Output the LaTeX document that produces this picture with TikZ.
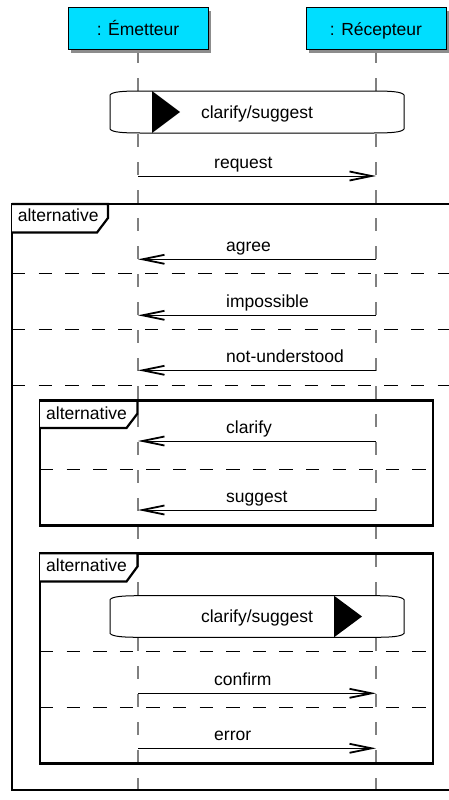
\documentclass[tikz,border=0pt]{standalone}
\usepackage{fontspec}
\setmainfont{Liberation Sans}
\usetikzlibrary{arrows.meta,shadows}
\definecolor{partfill}{RGB}{0,222,255}
\definecolor{lifegray}{RGB}{128,128,128}
\begin{document}
\begin{tikzpicture}[x=1pt,y=-1pt,
  font=\fontsize{17.5}{20}\selectfont,
  participant/.style={draw=black, line width=1pt, fill=partfill, minimum width=140pt, minimum height=42pt, inner sep=0pt, text height=12.5pt, text depth=0pt,
    drop shadow={shadow xshift=3pt, shadow yshift=-3pt, fill=black!45, opacity=1}},
  lifeline/.style={draw=lifegray, line width=1.5pt, dash pattern=on 13pt off 15pt},
  msg/.style={draw=black, line width=1pt, -{Straight Barb[length=22pt,width=9pt,line width=1.8pt]}},
  lbl/.style={anchor=base west, inner sep=0pt},
  framebox/.style={draw=black, line width=2.8pt},
  pent/.style={draw=black, line width=2.2pt, fill=white},
  sepline/.style={draw=black, line width=1pt, dash pattern=on 13.3pt off 13.3pt},
  actbox/.style={draw=black, line width=1pt, fill=white},
  acttext/.style={inner sep=0pt, text height=12.5pt, text depth=0pt},
  tri/.style={fill=black}
]
\useasboundingbox (0,0) rectangle (449,800);

% participant centres and lifeline ends
\path (138,29) coordinate (Ec);
\path (376,29) coordinate (Rc);
\coordinate (Ebot) at (138,800);
\coordinate (Rbot) at (376,800);

% lifelines
\draw[lifeline] (138,50) coordinate (Etop) -- (Ebot);
\draw[lifeline] (376,50) coordinate (Rtop) -- (Rbot);

% outer frame
\draw[framebox, line join=miter] (452,204) -- (12,204) -- (12,790) -- (452,790);
\draw[pent] (12,204) -- (108,204) -- (108,218) -- (97,232.5) -- (12,232.5);
\node[lbl] (alt0) at (17.6,221.7) {alternative};
\draw[sepline] (12,273.3) -- (449,273.3);
\draw[sepline] (12,329.3) -- (449,329.3);
\draw[sepline] (12,385) -- (449,385);

% inner frame 1
\draw[framebox] (40,400.7) rectangle (433,525.7);
\draw[pent] (40,400.7) -- (137.5,400.7) -- (137.5,413.5) -- (126.5,428) -- (40,428);
\node[lbl] (alt1) at (46,419.2) {alternative};
\draw[sepline] (40,469.3) -- (433,469.3);

% inner frame 2
\draw[framebox] (40,553.3) rectangle (433,763.3);
\draw[pent] (40,553.3) -- (137.5,553.3) -- (137.5,566.5) -- (126.5,581.5) -- (40,581.5);
\node[lbl] (alt2) at (46,571.7) {alternative};
\draw[sepline] (40,651) -- (433,651);
\draw[sepline] (40,707.3) -- (433,707.3);

% activity boxes
\draw[actbox] (110,95) .. controls (112,91.5) and (125,91) .. (140,91) -- (374,91)
  .. controls (389,91) and (402,91.5) .. (404,95) -- (404,129)
  .. controls (402,132.5) and (389,133) .. (374,133) -- (140,133)
  .. controls (125,133) and (112,132.5) .. (110,129) -- cycle;
\fill[tri] (152,91) -- (180,112) -- (152,133) -- cycle;
\node[acttext] (cs1) at (257,112) {clarify/suggest};

\draw[actbox] (110,599.7) .. controls (112,596.2) and (125,595.7) .. (140,595.7) -- (374,595.7)
  .. controls (389,595.7) and (402,596.2) .. (404,599.7) -- (404,633.3)
  .. controls (402,636.8) and (389,637.3) .. (374,637.3) -- (140,637.3)
  .. controls (125,637.3) and (112,636.8) .. (110,633.3) -- cycle;
\fill[tri] (334,595.7) -- (362,616.5) -- (334,637.3) -- cycle;
\node[acttext] (cs2) at (257,616.5) {clarify/suggest};

% forward messages
\foreach \n/\y/\t in {req/176/request, con/693.3/confirm, err/748.3/error}{
  \coordinate (e\n) at (138,\y);
  \coordinate (r\n) at (376,\y);
  \draw[msg] (e\n) -- (r\n);
  \node[lbl] (l\n) at (214,\y-7.5) {\t};
}
% backward messages
\foreach \n/\y/\t in {agr/259.3/agree, imp/315.3/impossible, nu/370.3/not-understood, cla/441/clarify, sug/510/suggest}{
  \coordinate (e\n) at (138,\y);
  \coordinate (r\n) at (376,\y);
  \draw[msg] (r\n) -- (e\n);
  \node[lbl] (l\n) at (226,\y-7.5) {\t};
}

% participants
\node[participant] (E) at (Ec) {: Émetteur};
\node[participant] (R) at (Rc) {: Récepteur};
\end{tikzpicture}
\end{document}
